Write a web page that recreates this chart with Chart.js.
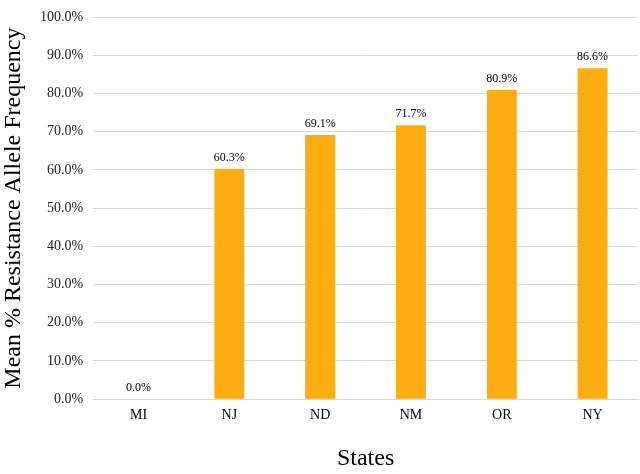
<!DOCTYPE html>
<html>
<head>
<meta charset="utf-8">
<script src="https://cdn.jsdelivr.net/npm/chart.js@4/dist/chart.umd.min.js"></script>
<style>
  html, body { margin: 0; padding: 0; background: #fff; }
  #wrap { width: 640px; height: 474px; }
</style>
</head>
<body>
<div id="wrap"><canvas id="resistChart"></canvas></div>
<script>
// values
const states = ['MI', 'NJ', 'ND', 'NM', 'OR', 'NY'];
const meanResistance = [0.0, 60.3, 69.1, 71.7, 80.9, 86.6];
const yTicks = [0, 10, 20, 30, 40, 50, 60, 70, 80, 90, 100];

const serif = "'Liberation Serif', 'Times New Roman', serif";

// draws the value above each bar
const valueLabels = {
  id: 'valueLabels',
  afterDatasetsDraw(chart) {
    const ctx = chart.ctx;
    const meta = chart.getDatasetMeta(0);
    ctx.save();
    ctx.font = '12px ' + serif;
    ctx.fillStyle = '#000';
    ctx.textAlign = 'center';
    ctx.textBaseline = 'bottom';
    meta.data.forEach((bar, i) => {
      ctx.fillText(meanResistance[i].toFixed(1) + '%', bar.x, bar.y - 5);
    });
    ctx.restore();
  },
};

const ctx = document.getElementById('resistChart').getContext('2d');
new Chart(ctx, {
  type: 'bar',
  data: {
    labels: states,
    datasets: [
      {
        label: 'Mean % Resistance Allele Frequency',
        data: meanResistance,
        backgroundColor: '#FDAD14',
        borderWidth: 0,
        categoryPercentage: 1.0,
        barPercentage: 0.33,
      },
    ],
  },
  options: {
    responsive: true,
    maintainAspectRatio: false,
    animation: false,
    layout: { padding: { left: 0, right: 2, top: 0, bottom: 0 } },
    plugins: {
      legend: { display: false },
      tooltip: { enabled: false },
    },
    scales: {
      x: {
        grid: { display: false, drawTicks: false },
        border: { color: '#d9d9d9', width: 1 },
        ticks: { color: '#000', font: { family: serif, size: 14 }, padding: 8 },
        title: {
          display: true,
          text: 'States',
          color: '#000',
          font: { family: serif, size: 24, lineHeight: 1.0 },
          padding: { top: 15, bottom: 3 },
        },
      },
      y: {
        min: 0,
        max: 100,
        afterBuildTicks: (axis) => {
          axis.ticks = yTicks.map((v) => ({ value: v }));
        },
        grid: { color: '#d9d9d9', drawTicks: false },
        border: { display: false },
        ticks: {
          color: '#222',
          font: { family: serif, size: 14, lineHeight: 1.0 },
          padding: 10,
          callback: (v) => v.toFixed(1) + '%',
        },
        title: {
          display: true,
          text: 'Mean % Resistance Allele Frequency',
          color: '#000',
          font: { family: serif, size: 24, lineHeight: 1.0 },
          padding: { top: 2, bottom: 4 },
        },
      },
    },
  },
  plugins: [valueLabels],
});
</script>
</body>
</html>
